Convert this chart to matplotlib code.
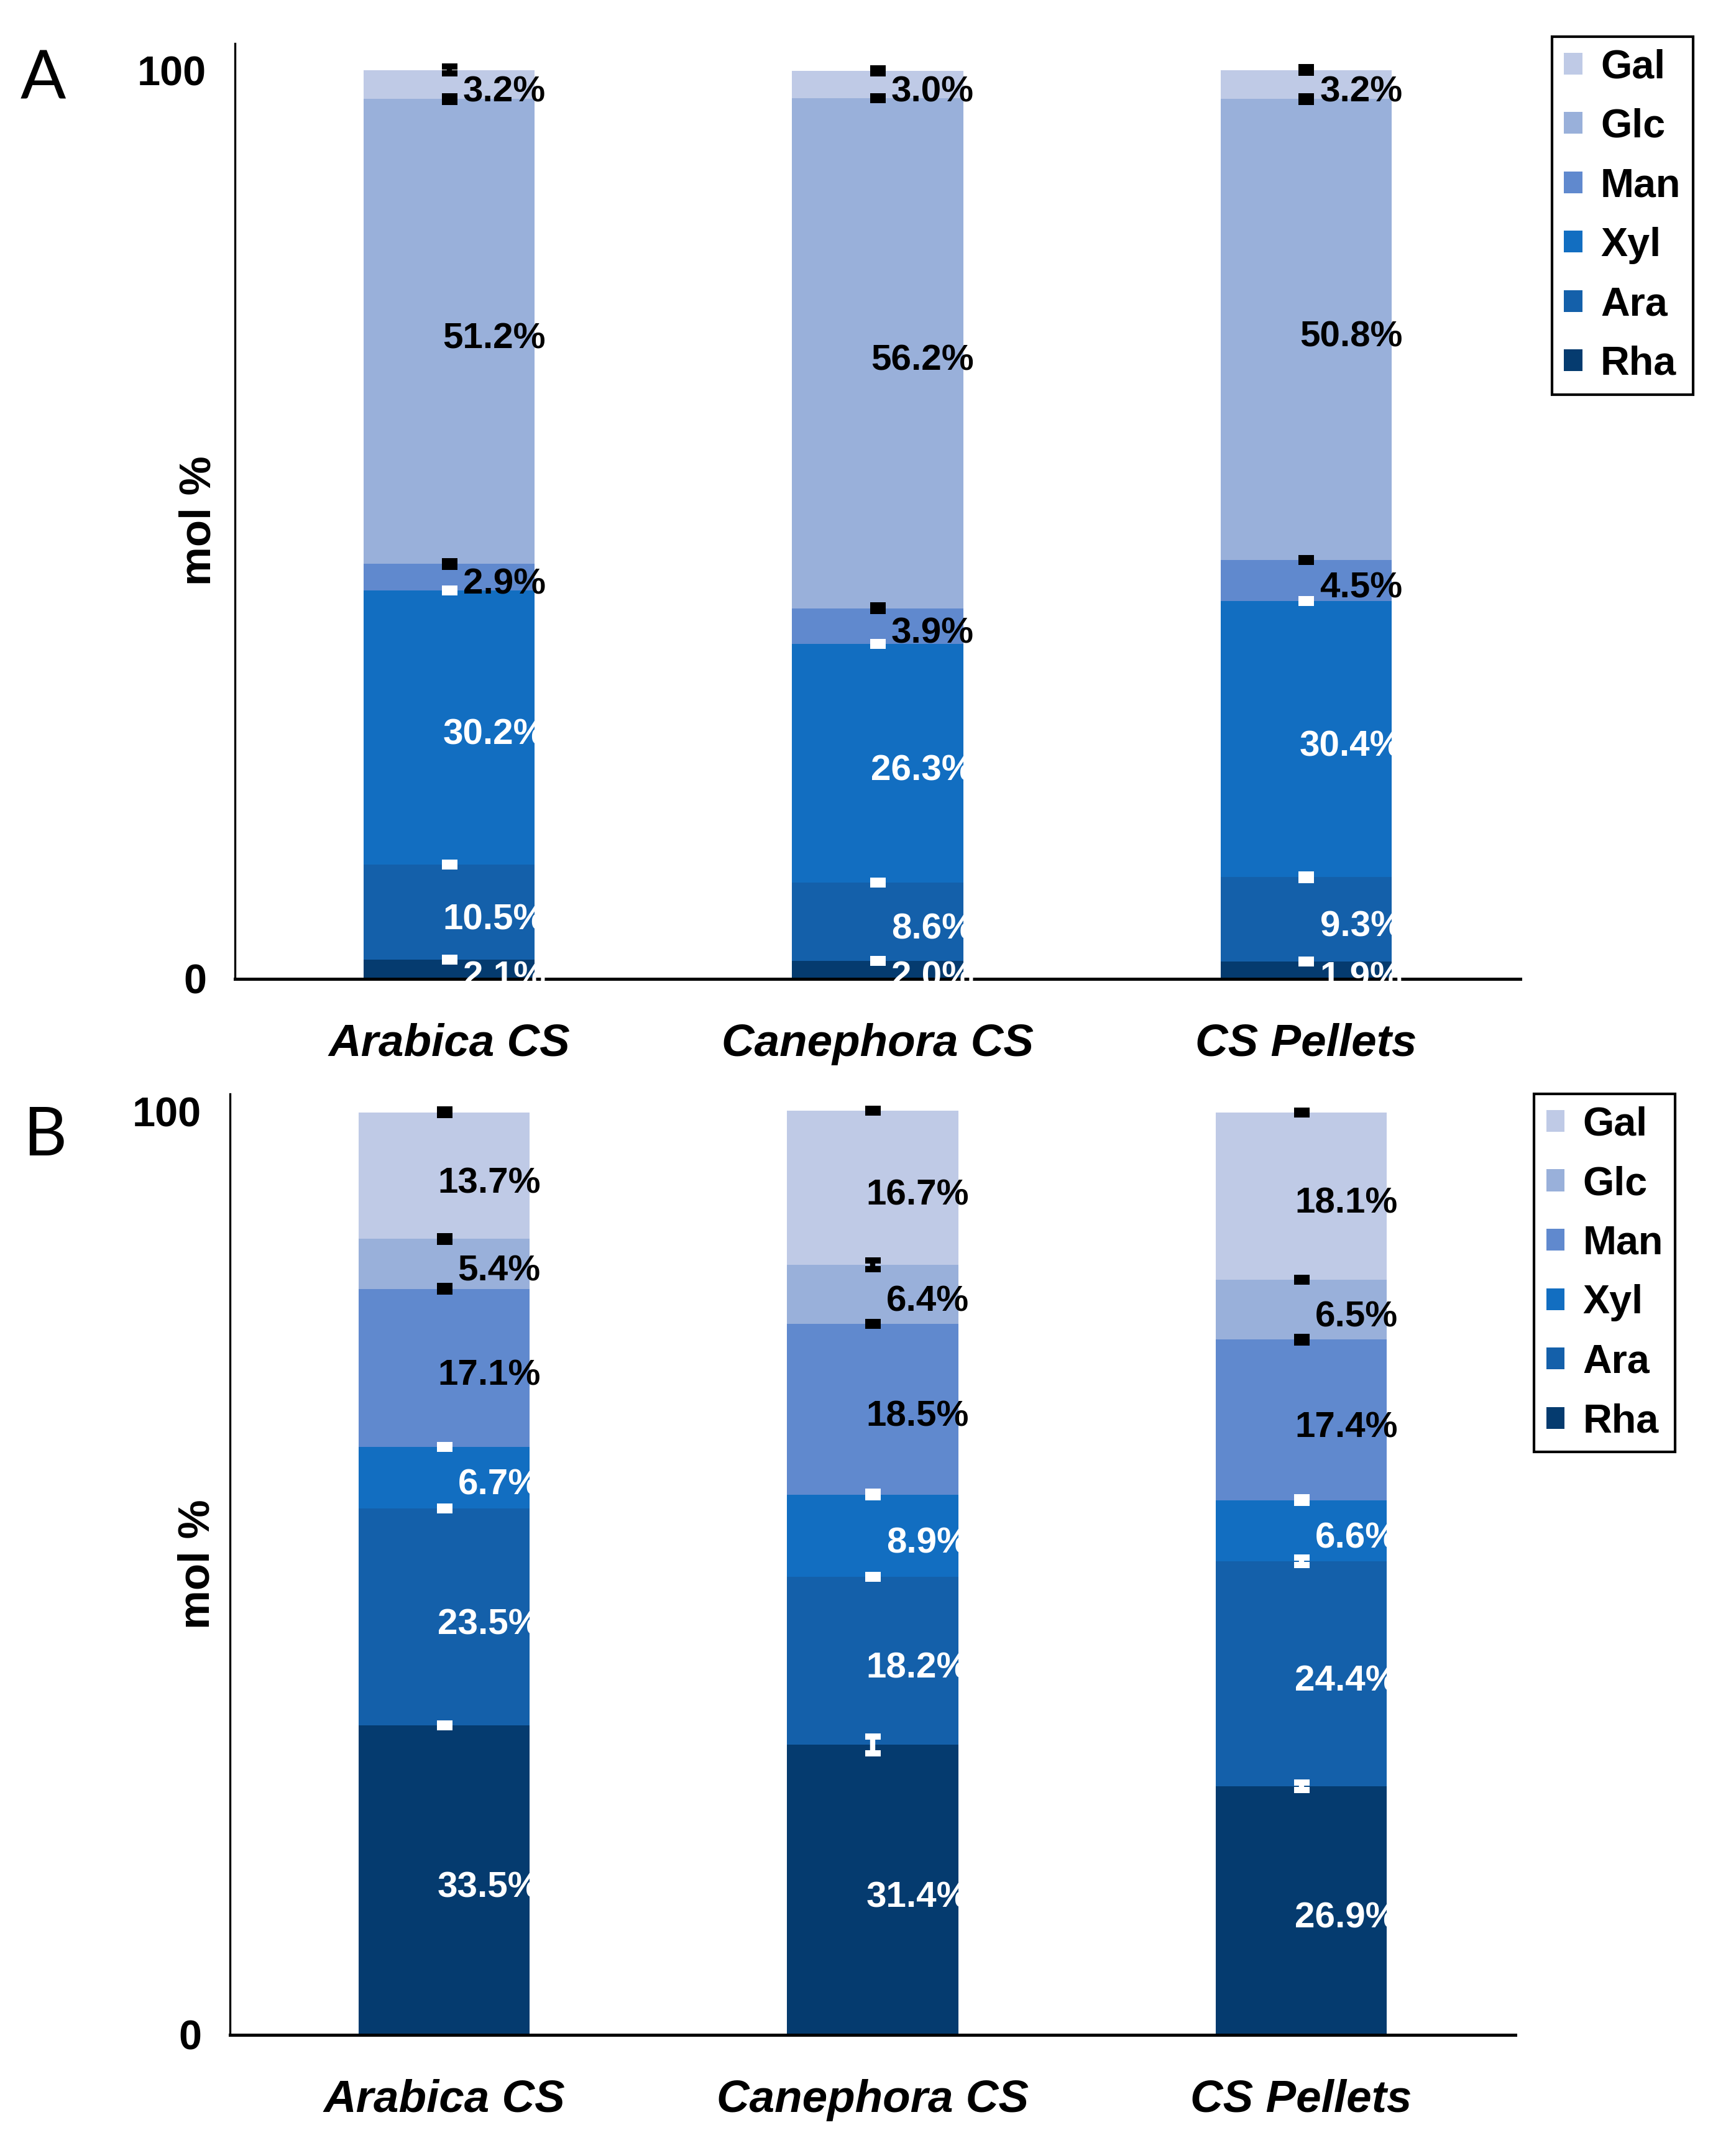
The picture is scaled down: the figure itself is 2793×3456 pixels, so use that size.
import numpy as np
import matplotlib
matplotlib.use("Agg")
import matplotlib.pyplot as plt
import matplotlib.transforms as mtransforms

plt.rcParams['font.family'] = ['Liberation Sans', 'DejaVu Sans']

samples = ['Arabica CS', 'Canephora CS', 'CS Pellets']
sugars = ['Rha', 'Ara', 'Xyl', 'Man', 'Glc', 'Gal']
colors = ['#053B6F', '#1460AA', '#126EC1', '#6089CE', '#99B0DA', '#BFCAE6']
ink = ['white', 'white', 'white', 'black', 'black', 'black']

# panel A, mol % (rows = samples, cols = sugars)
vals_a = np.array([[2.1, 10.5, 30.2, 2.9, 51.2, 3.2],
                   [2.0, 8.6, 26.3, 3.9, 56.2, 3.0],
                   [1.9, 9.3, 30.4, 4.5, 50.8, 3.2]])
sd_a = np.array([[0.2, 0.2, 0.2, 0.3, 0.3, 0.4],
                 [0.2, 0.2, 0.2, 0.3, 0.2, 0.3],
                 [0.2, 0.3, 0.2, 0.2, 0.3, 0.3]])

# panel B
vals_b = np.array([[33.5, 23.5, 6.7, 17.1, 5.4, 13.7],
                   [31.4, 18.2, 8.9, 18.5, 6.4, 16.7],
                   [26.9, 24.4, 6.6, 17.4, 6.5, 18.1]])
sd_b = np.array([[0.2, 0.2, 0.2, 0.3, 0.3, 0.3],
                 [0.9, 0.2, 0.3, 0.2, 0.5, 0.2],
                 [0.4, 0.4, 0.3, 0.3, 0.2, 0.2]])

W, H, DPI = 2793, 3456, 300
fig = plt.figure(figsize=(W / DPI, H / DPI), dpi=DPI)

ax_a = fig.add_axes([0.1353, 0.5443, 0.8758 - 0.1353, 0.9797 - 0.5443])
ax_b = fig.add_axes([0.1324, 0.0527, 0.873 - 0.1324, 0.4907 - 0.0527])

down = mtransforms.ScaledTranslation(0, -3 / 72, fig.dpi_scale_trans)


def draw(ax, vals, sd, ytop, leg_xy, lab_xy):
    x = np.arange(len(samples))
    bottom = np.zeros(len(samples))
    handles = []
    tops = []
    for j, s in enumerate(sugars):
        b = ax.bar(x, vals[:, j], 0.4, bottom=bottom, color=colors[j], label=s, zorder=2)
        handles.append(b)
        for i in range(len(samples)):
            ax.text(x[i] + 0.225, bottom[i] + vals[i, j] / 2, f'{vals[i, j]:.1f}%',
                    ha='right', va='center', fontsize=14, fontweight='bold',
                    color=ink[j], zorder=5, transform=ax.transData + down)
        bottom = bottom + vals[:, j]
        tops.append(bottom.copy())
    for j in range(len(sugars)):
        ax.errorbar(x, tops[j], yerr=sd[:, j], fmt='none', ecolor=ink[j],
                    elinewidth=2.0, capsize=3.0, capthick=2.4, zorder=4)

    ax.set_xlim(-0.5, 2.5)
    ax.set_ylim(0, ytop)
    ax.set_yticks([0, 100])
    ax.set_yticklabels(['0', '100'], fontsize=16, fontweight='bold')
    ax.set_xticks(x)
    ax.set_xticklabels(samples, fontsize=17.5, fontweight='bold', style='italic')
    ax.tick_params(axis='y', length=0, pad=11)
    ax.tick_params(axis='x', length=0, pad=17)
    for sp in ['top', 'right']:
        ax.spines[sp].set_visible(False)
    ax.spines['left'].set_linewidth(0.8)
    ax.spines['bottom'].set_linewidth(1.2)
    ax.set_ylabel('mol %', fontsize=17, fontweight='bold')
    ax.yaxis.set_label_coords(*lab_xy)

    leg = fig.legend(handles[::-1], sugars[::-1], loc='upper left',
                     bbox_to_anchor=leg_xy, bbox_transform=fig.transFigure,
                     prop={'weight': 'bold', 'size': 15.5}, frameon=True,
                     fancybox=False, edgecolor='black', framealpha=1,
                     handlelength=0.46, handleheight=0.46, handletextpad=0.45,
                     labelspacing=0.55, borderpad=0.3, borderaxespad=0)
    leg.get_frame().set_linewidth(1.0)


draw(ax_a, vals_a, sd_a, 103.0, (0.894, 0.983), (-0.012, 0.49))
draw(ax_b, vals_b, sd_b, 101.9, (0.8837, 0.4907), (-0.009, 0.50))

fig.text(0.025, 0.963, 'A', fontsize=26, family=['Lato', 'DejaVu Sans'],
         ha='center', va='center')
fig.text(0.026, 0.4708, 'B', fontsize=26, family=['Lato', 'DejaVu Sans'],
         ha='center', va='center')

fig.savefig('out.png', dpi=DPI)
